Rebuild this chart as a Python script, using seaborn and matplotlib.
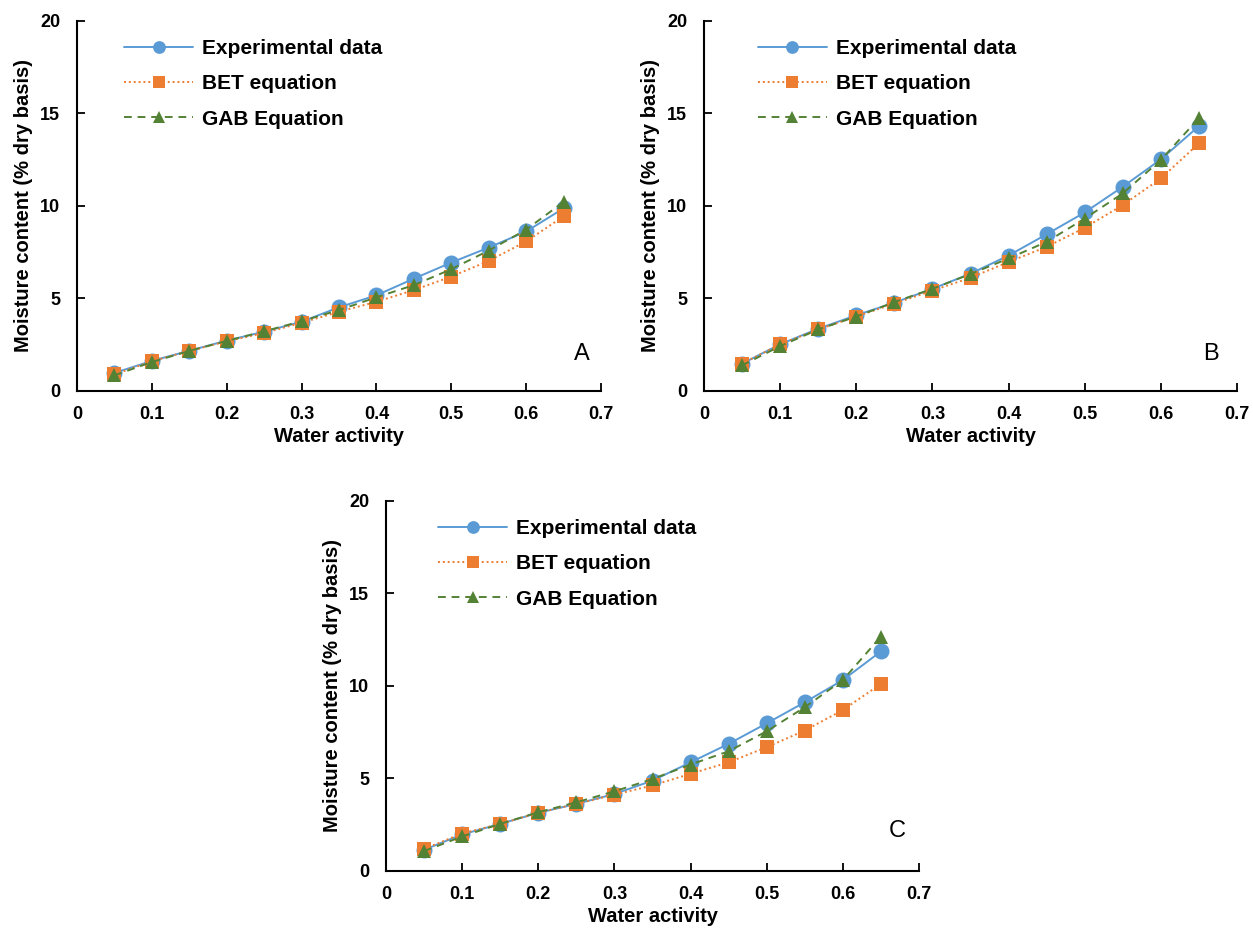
import numpy as np
import pandas as pd
import matplotlib
matplotlib.use("Agg")
import matplotlib.pyplot as plt
import seaborn as sns

# ---------------- data ----------------
water_activity = [0.05, 0.10, 0.15, 0.20, 0.25, 0.30, 0.35, 0.40, 0.45, 0.50, 0.55, 0.60, 0.65]

A_exp = [0.95, 1.60, 2.15, 2.70, 3.18, 3.72, 4.50, 5.15, 6.05, 6.92, 7.73, 8.60, 9.85]
A_bet = [0.87, 1.58, 2.14, 2.66, 3.11, 3.66, 4.26, 4.80, 5.43, 6.16, 7.01, 8.06, 9.42]
A_gab = [0.82, 1.54, 2.14, 2.68, 3.20, 3.75, 4.35, 5.04, 5.70, 6.56, 7.57, 8.70, 10.20]

B_exp = [1.45, 2.50, 3.34, 4.07, 4.75, 5.50, 6.32, 7.30, 8.45, 9.63, 11.02, 12.50, 14.30]
B_bet = [1.45, 2.50, 3.30, 4.00, 4.70, 5.40, 6.10, 6.95, 7.77, 8.80, 10.03, 11.47, 13.37]
B_gab = [1.36, 2.40, 3.30, 4.00, 4.78, 5.50, 6.30, 7.14, 8.04, 9.30, 10.66, 12.47, 14.73]

C_exp = [1.12, 1.95, 2.52, 3.12, 3.60, 4.14, 4.86, 5.85, 6.85, 7.96, 9.10, 10.30, 11.85]
C_bet = [1.17, 2.00, 2.52, 3.12, 3.60, 4.10, 4.60, 5.23, 5.85, 6.67, 7.57, 8.68, 10.09]
C_gab = [1.05, 1.84, 2.52, 3.15, 3.69, 4.28, 4.95, 5.73, 6.45, 7.53, 8.83, 10.30, 12.65]

series_names = ["Experimental data", "BET equation", "GAB Equation"]
panel_letters = ["A", "B", "C"]
x_ticks = [0, 0.1, 0.2, 0.3, 0.4, 0.5, 0.6, 0.7]
x_tick_labels = ["0", "0.1", "0.2", "0.3", "0.4", "0.5", "0.6", "0.7"]
y_ticks = [0, 5, 10, 15, 20]
y_tick_labels = ["0", "5", "10", "15", "20"]
x_label = "Water activity"
y_label = "Moisture content (% dry basis)"

panels = [(A_exp, A_bet, A_gab), (B_exp, B_bet, B_gab), (C_exp, C_bet, C_gab)]

# ---------------- style ----------------
sns.set_theme(style="white")
plt.rcParams["font.family"] = ["Liberation Sans", "DejaVu Sans"]
plt.rcParams["text.color"] = "black"
plt.rcParams["axes.labelcolor"] = "black"
plt.rcParams["xtick.color"] = "black"
plt.rcParams["ytick.color"] = "black"

colors = ["#5B9BD5", "#ED7D31", "#548235"]
styles = [
    dict(marker="o", markersize=11.5, linestyle="-", linewidth=1.4),
    dict(marker="s", markersize=10, linestyle=(0, (1, 1.5)), linewidth=1.4),
    dict(marker="^", markersize=10.5, linestyle=(0, (4, 3)), linewidth=1.4),
]

W, H = 1253, 930
fig = plt.figure(figsize=(W / 100, H / 100), dpi=100)

# axes rectangles in pixels: left, top, right, bottom
rects = [(77, 20.7, 601, 390.5), (704, 20.7, 1237, 390.5), (386, 500.7, 919, 870.5)]
legend_anchor = [(0.09, 0.95), (0.101, 0.95), (0.098, 0.95)]
letter_pos = [(0.963, 0.10), (0.951, 0.10), (0.96, 0.107)]

for i, (l, t, r, b) in enumerate(rects):
    ax = fig.add_axes([l / W, 1 - b / H, (r - l) / W, (b - t) / H])
    for j, vals in enumerate(panels[i]):
        df = pd.DataFrame({"aw": water_activity, "mc": vals})
        sns.lineplot(data=df, x="aw", y="mc", ax=ax, color=colors[j],
                     markeredgewidth=0, label=series_names[j],
                     clip_on=False, zorder=3 + j, **styles[j])
    ax.set_xlim(0, 0.7)
    ax.set_ylim(0, 20)
    ax.set_xticks(x_ticks)
    ax.set_xticklabels(x_tick_labels)
    ax.set_yticks(y_ticks)
    ax.set_yticklabels(y_tick_labels)
    for sp in ["top", "right"]:
        ax.spines[sp].set_visible(False)
    for sp in ["left", "bottom"]:
        ax.spines[sp].set_color("black")
        ax.spines[sp].set_linewidth(1.5)
    ax.tick_params(axis="both", direction="in", length=6, width=1.3,
                   colors="black", labelsize=13, pad=11)
    ax.tick_params(axis="y", pad=12)
    ax.tick_params(left=True, bottom=True)
    for lab in ax.get_xticklabels() + ax.get_yticklabels():
        lab.set_fontweight("bold")
    ax.set_xlabel(x_label, fontsize=14.5, fontweight="bold", labelpad=3)
    ax.set_ylabel(y_label, fontsize=14.5, fontweight="bold", labelpad=5)
    ax.grid(False)
    handles, labels = ax.get_legend_handles_labels()
    ax.legend(handles, labels, loc="upper left", bbox_to_anchor=legend_anchor[i],
              frameon=False, borderpad=0, borderaxespad=0,
              prop={"weight": "bold", "size": 15}, handlelength=3.3,
              handletextpad=0.45, labelspacing=0.78, markerscale=0.8)
    ax.text(letter_pos[i][0], letter_pos[i][1], panel_letters[i],
            transform=ax.transAxes, fontsize=17, ha="center", va="center")

fig.savefig("out.png", dpi=100)
